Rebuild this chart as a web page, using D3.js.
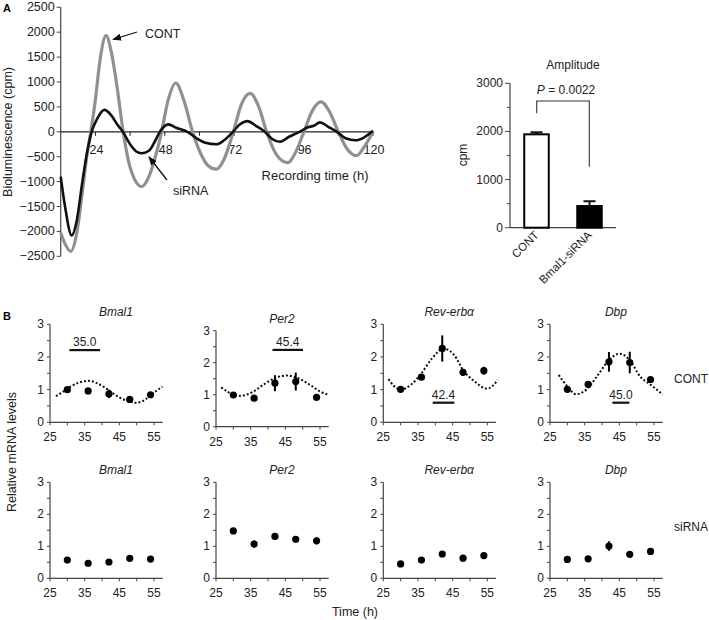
<!DOCTYPE html>
<html><head><meta charset="utf-8">
<script src="https://cdn.jsdelivr.net/npm/d3@7"></script>
<style>
body{margin:0;background:#fff;}
svg{display:block;font-family:"Liberation Sans",Arial,sans-serif;}
</style></head>
<body><svg id="c" width="709" height="620"></svg>
<script>
// ---------- Panel A: bioluminescence traces ----------
const contTime = [12,13.5,15.5,17.5,19.5,21,22.4,24,25.5,27.7,29.5,31.5,33.6,35.5,37.5,40,42.5,44.5,46.9,49,51.8,54.5,57.6,60.5,63,65.9,68.5,71.7,74.5,77.5,80.5,83.2,86.5,90.4,93.5,96.1,99,102,105,108,111,114.3,117,120];
const contVal  = [-2030,-2250,-2400,-2050,-1200,-500,0,650,1400,1930,1600,900,0,-600,-950,-1100,-900,-550,0,600,980,650,0,-450,-680,-750,-550,0,550,770,500,0,-450,-620,-380,0,420,600,400,0,-340,-480,-300,0];
const siTime = [12,13.5,15.8,17.5,19.5,21,22.7,24.5,27.1,29.5,31.5,33.5,36,38,40,42.5,44.5,46.3,49.2,52,55.8,59,62,65.9,68.5,71.6,74,76.6,79.5,82.6,85,87.8,91,94.6,97.5,99.5,101.6,104.5,107.5,110.5,114,117,120];
const siVal  = [-900,-1500,-2080,-1800,-1000,-450,0,250,440,330,150,0,-250,-390,-430,-380,-200,0,150,80,0,-130,-220,-250,-170,0,150,215,120,0,-140,-200,-100,0,90,120,190,100,0,-130,-170,-110,20];
const yTicksA = [-2500,-2000,-1500,-1000,-500,0,500,1000,1500,2000,2500];
const xTickLabelsA = [24,48,72,96,120];
const xTicksA = [24,36,48,60,72,84,96,108,120];

// ---------- Amplitude bar chart ----------
const ampCats = ["CONT","Bmal1-siRNA"];
const ampVals = [1940,450];
const ampErr  = [42,100];
const ampTicks = [0,1000,2000,3000];
const ampMinor = [500,1500,2500];

// ---------- Panel B: mRNA ----------
const genes = ["Bmal1","Per2","Rev-erbα","Dbp"];
const sampleTimes = [30,36,42,48,54];
const contMean = [[1.0,0.96,0.87,0.70,0.84],[0.99,0.89,1.36,1.41,0.92],[1.01,1.38,2.26,1.53,1.58],[1.01,1.16,1.85,1.83,1.31]];
const contErr  = [[0.03,0.03,0.13,0.08,0.05],[0.04,0.04,0.25,0.28,0.1],[0.03,0.05,0.4,0.1,0.12],[0.05,0.05,0.3,0.33,0.04]];
const siMean = [[0.57,0.47,0.51,0.625,0.60],[1.48,1.07,1.31,1.22,1.17],[0.45,0.57,0.76,0.63,0.71],[0.59,0.61,1.01,0.75,0.84]];
const siErr  = [[0.03,0.03,0.03,0.03,0.03],[0.04,0.11,0.04,0.04,0.11],[0.03,0.04,0.04,0.03,0.03],[0.03,0.08,0.15,0.04,0.04]];
const fitTime = [
  [26.7,29,31,33.5,36,38.5,41,43,45,47.5,49.7,51.5,53.5,55.5,57.4],
  [26.5,28.5,31.5,33.5,35.5,38.5,42,45.4,49,52.5,55,57.5],
  [26.5,28,30,33,36,39,42.4,45.5,48,51,55,58],
  [27.5,30,32.5,35.5,38.5,42,45,48,51,54,57.5]];
const fitVal = [
  [0.8,0.95,1.1,1.22,1.27,1.2,1.05,0.9,0.76,0.65,0.6,0.64,0.78,0.95,1.09],
  [1.23,1.08,0.96,0.99,1.08,1.3,1.52,1.6,1.5,1.28,1.1,1.0],
  [1.32,1.12,1.0,1.15,1.5,1.95,2.25,2.05,1.6,1.28,1.03,1.29],
  [1.45,1.1,0.86,1.0,1.4,1.9,2.1,1.9,1.4,1.15,0.85]];
const phaseLabels = ["35.0","45.4","42.4","45.0"];
const phaseRange = [[30.6,39.4],[41.3,50.1],[39.25,45.5],[43,47.9]];
const phaseLevel = [2.21,2.4,0.6,0.6];
const bTicksX = [25,30,35,40,45,50,55];
const bLabelsX = [25,35,45,55];
const bTicksY = [0,0.5,1,1.5,2,2.5,3];
const bLabelsY = [0,1,2,3];

const svg = d3.select("#c");
const AX = "#444";

// ===== Panel A =====
const xA = d3.scaleLinear([12,120],[60.7,373]);
const yA = d3.scaleLinear([-2500,2500],[256.3,7.3]);
const gA = svg.append("g");
svg.append("text").attr("x",3).attr("y",12).attr("font-size",11).attr("font-weight","bold").text("A");
gA.append("line").attr("x1",xA(12)).attr("x2",xA(12)).attr("y1",yA(2500)).attr("y2",yA(-2500)).attr("stroke",AX).attr("stroke-width",1.2);
yTicksA.forEach(v=>{
  gA.append("line").attr("x1",xA(12)-4).attr("x2",xA(12)).attr("y1",yA(v)).attr("y2",yA(v)).attr("stroke",AX);
  gA.append("text").attr("x",xA(12)-6).attr("y",yA(v)+4).attr("text-anchor","end").attr("font-size",12.5).attr("fill","#222")
    .text(v<0?"\u2212"+Math.abs(v):v);
});
gA.append("line").attr("x1",xA(12)).attr("x2",xA(120)).attr("y1",yA(0)).attr("y2",yA(0)).attr("stroke","#222").attr("stroke-width",1.2);
xTicksA.forEach(t=>{
  gA.append("line").attr("x1",xA(t)).attr("x2",xA(t)).attr("y1",yA(0)).attr("y2",yA(0)+4).attr("stroke","#222");
});
xTickLabelsA.forEach(t=>{
  gA.append("text").attr("x",xA(t)+1).attr("y",yA(0)+22).attr("text-anchor","middle").attr("font-size",12.5).attr("fill","#222").text(t);
});
gA.append("text").attr("x",315).attr("y",180).attr("text-anchor","middle").attr("font-size",13).attr("fill","#222").text("Recording time (h)");
gA.append("text").attr("transform","translate(12,132) rotate(-90)").attr("text-anchor","middle").attr("font-size",12.5).attr("fill","#222").text("Bioluminescence (cpm)");

const lineA = d3.line().curve(d3.curveMonotoneX);
gA.append("path").attr("d",lineA(contTime.map((t,i)=>[xA(t),yA(contVal[i])]))).attr("fill","none").attr("stroke","#909090").attr("stroke-width",3.2);
gA.append("path").attr("d",lineA(siTime.map((t,i)=>[xA(t),yA(siVal[i])]))).attr("fill","none").attr("stroke","#111").attr("stroke-width",2.6);

// arrows
const defs = svg.append("defs");
defs.append("marker").attr("id","ah").attr("viewBox","0 0 10 10").attr("refX",9).attr("refY",5)
  .attr("markerWidth",9).attr("markerHeight",9).attr("markerUnits","userSpaceOnUse").attr("orient","auto")
  .append("path").attr("d","M0,1 L10,5 L0,9 Z").attr("fill","#111");
gA.append("line").attr("x1",137).attr("y1",32).attr("x2",113).attr("y2",39.5).attr("stroke","#111").attr("stroke-width",1.3).attr("marker-end","url(#ah)");
gA.append("text").attr("x",145).attr("y",38).attr("font-size",12.5).attr("fill","#222").text("CONT");
gA.append("line").attr("x1",167).attr("y1",180).attr("x2",149).attr("y2",157).attr("stroke","#111").attr("stroke-width",1.3).attr("marker-end","url(#ah)");
gA.append("text").attr("x",173).attr("y",195).attr("font-size",12.5).attr("fill","#222").text("siRNA");

// ===== Amplitude =====
const xBar = d3.scaleBand(ampCats,[510,616]).paddingInner(0.5).paddingOuter(0.25);
const yBar = d3.scaleLinear([0,3000],[227.7,83.3]);
const gB = svg.append("g");
gB.append("line").attr("x1",510).attr("x2",510).attr("y1",yBar(3000)).attr("y2",yBar(0)).attr("stroke",AX).attr("stroke-width",1.2);
gB.append("line").attr("x1",510).attr("x2",616).attr("y1",yBar(0)).attr("y2",yBar(0)).attr("stroke",AX).attr("stroke-width",1.2);
ampTicks.forEach(v=>{
  gB.append("line").attr("x1",505).attr("x2",510).attr("y1",yBar(v)).attr("y2",yBar(v)).attr("stroke",AX);
  gB.append("text").attr("x",503).attr("y",yBar(v)+4).attr("text-anchor","end").attr("font-size",12).attr("fill","#222").text(v);
});
ampMinor.forEach(v=>{
  gB.append("line").attr("x1",507).attr("x2",510).attr("y1",yBar(v)).attr("y2",yBar(v)).attr("stroke",AX);
});
ampCats.forEach((c,i)=>{
  const x0 = xBar(c), bw = xBar.bandwidth(), cx = x0+bw/2;
  gB.append("line").attr("x1",cx).attr("x2",cx).attr("y1",yBar(ampVals[i])).attr("y2",yBar(ampVals[i]+ampErr[i])).attr("stroke","#111").attr("stroke-width",2);
  gB.append("line").attr("x1",cx-6).attr("x2",cx+6).attr("y1",yBar(ampVals[i]+ampErr[i])).attr("y2",yBar(ampVals[i]+ampErr[i])).attr("stroke","#111").attr("stroke-width",2);
  gB.append("rect").attr("x",x0+1).attr("y",yBar(ampVals[i])).attr("width",bw-2).attr("height",yBar(0)-yBar(ampVals[i]))
    .attr("fill",i===0?"#fff":"#000").attr("stroke","#000").attr("stroke-width",2);
  gB.append("text").attr("transform",`translate(${cx+3},${yBar(0)+8}) rotate(-45)`).attr("text-anchor","end").attr("font-size",11.5).attr("fill","#222").text(c);
});
gB.append("text").attr("x",573).attr("y",69).attr("text-anchor","middle").attr("font-size",12).attr("fill","#222").text("Amplitude");
const pt = gB.append("text").attr("x",566).attr("y",94).attr("text-anchor","middle").attr("font-size",12).attr("fill","#222");
pt.append("tspan").attr("font-style","italic").text("P");
pt.append("tspan").text(" = 0.0022");
gB.append("path").attr("d","M536.7,113.3 V101 H589.3 V166.7").attr("fill","none").attr("stroke","#333").attr("stroke-width",1.1);
gB.append("text").attr("transform","translate(467,155) rotate(-90)").attr("text-anchor","middle").attr("font-size",12).attr("fill","#222").text("cpm");

// ===== Panel B =====
svg.append("text").attr("x",3).attr("y",320).attr("font-size",11).attr("font-weight","bold").text("B");
const plotX0 = [50,216,383.3,550];
const rows = [
  {tops:[324.3,330.7,324.3,324.3], bots:[422.3,426.7,422.3,422.3], mean:contMean, err:contErr, fit:true},
  {tops:[482.3,482.3,482.3,482.3], bots:[578.3,578.3,578.3,578.3], mean:siMean, err:siErr, fit:false}
];
rows.forEach((r,ri)=>{
  genes.forEach((g,gi)=>{
    const x = d3.scaleLinear([25,57.5],[plotX0[gi],plotX0[gi]+112.7]);
    const y = d3.scaleLinear([0,3],[r.bots[gi],r.tops[gi]]);
    const G = svg.append("g");
    G.append("line").attr("x1",x(25)).attr("x2",x(25)).attr("y1",y(3)).attr("y2",y(0)).attr("stroke",AX).attr("stroke-width",1.2);
    G.append("line").attr("x1",x(25)).attr("x2",x(57.5)).attr("y1",y(0)).attr("y2",y(0)).attr("stroke",AX).attr("stroke-width",1.2);
    bTicksY.forEach(v=>G.append("line").attr("x1",x(25)-3).attr("x2",x(25)).attr("y1",y(v)).attr("y2",y(v)).attr("stroke",AX));
    bLabelsY.forEach(v=>G.append("text").attr("x",x(25)-6).attr("y",y(v)+4).attr("text-anchor","end").attr("font-size",12).attr("fill","#222").text(v));
    bTicksX.forEach(t=>G.append("line").attr("x1",x(t)).attr("x2",x(t)).attr("y1",y(0)).attr("y2",y(0)+3).attr("stroke",AX));
    bLabelsX.forEach(t=>G.append("text").attr("x",x(t)).attr("y",y(0)+19).attr("text-anchor","middle").attr("font-size",12).attr("fill","#222").text(t));
    G.append("text").attr("x",x(44)).attr("y",y(3)-8).attr("text-anchor","middle").attr("font-size",12).attr("font-style","italic").attr("fill","#222").text(g);
    if(r.fit){
      G.append("path").attr("d",d3.line().curve(d3.curveMonotoneX)(fitTime[gi].map((t,k)=>[x(t),y(fitVal[gi][k])])))
        .attr("fill","none").attr("stroke","#111").attr("stroke-width",2).attr("stroke-dasharray","2,2");
      const pr = phaseRange[gi];
      G.append("line").attr("x1",x(pr[0])).attr("x2",x(pr[1])).attr("y1",y(phaseLevel[gi])).attr("y2",y(phaseLevel[gi])).attr("stroke","#111").attr("stroke-width",2.2);
      G.append("text").attr("x",x((pr[0]+pr[1])/2)).attr("y",y(phaseLevel[gi])-4).attr("text-anchor","middle").attr("font-size",12).attr("fill","#222").text(phaseLabels[gi]);
    }
    sampleTimes.forEach((t,k)=>{
      const m = r.mean[gi][k], e = r.err[gi][k];
      G.append("line").attr("x1",x(t)).attr("x2",x(t)).attr("y1",y(m-e)).attr("y2",y(m+e)).attr("stroke","#000").attr("stroke-width",2);
      G.append("circle").attr("cx",x(t)).attr("cy",y(m)).attr("r",3.6).attr("fill","#000");
    });
  });
});
svg.append("text").attr("x",691).attr("y",383).attr("text-anchor","middle").attr("font-size",12).attr("fill","#222").text("CONT");
svg.append("text").attr("x",691).attr("y",531).attr("text-anchor","middle").attr("font-size",12).attr("fill","#222").text("siRNA");
svg.append("text").attr("transform","translate(16,452) rotate(-90)").attr("text-anchor","middle").attr("font-size",12.5).attr("fill","#222").text("Relative mRNA levels");
svg.append("text").attr("x",355).attr("y",616).attr("text-anchor","middle").attr("font-size",12.5).attr("fill","#222").text("Time (h)");
</script></body></html>
